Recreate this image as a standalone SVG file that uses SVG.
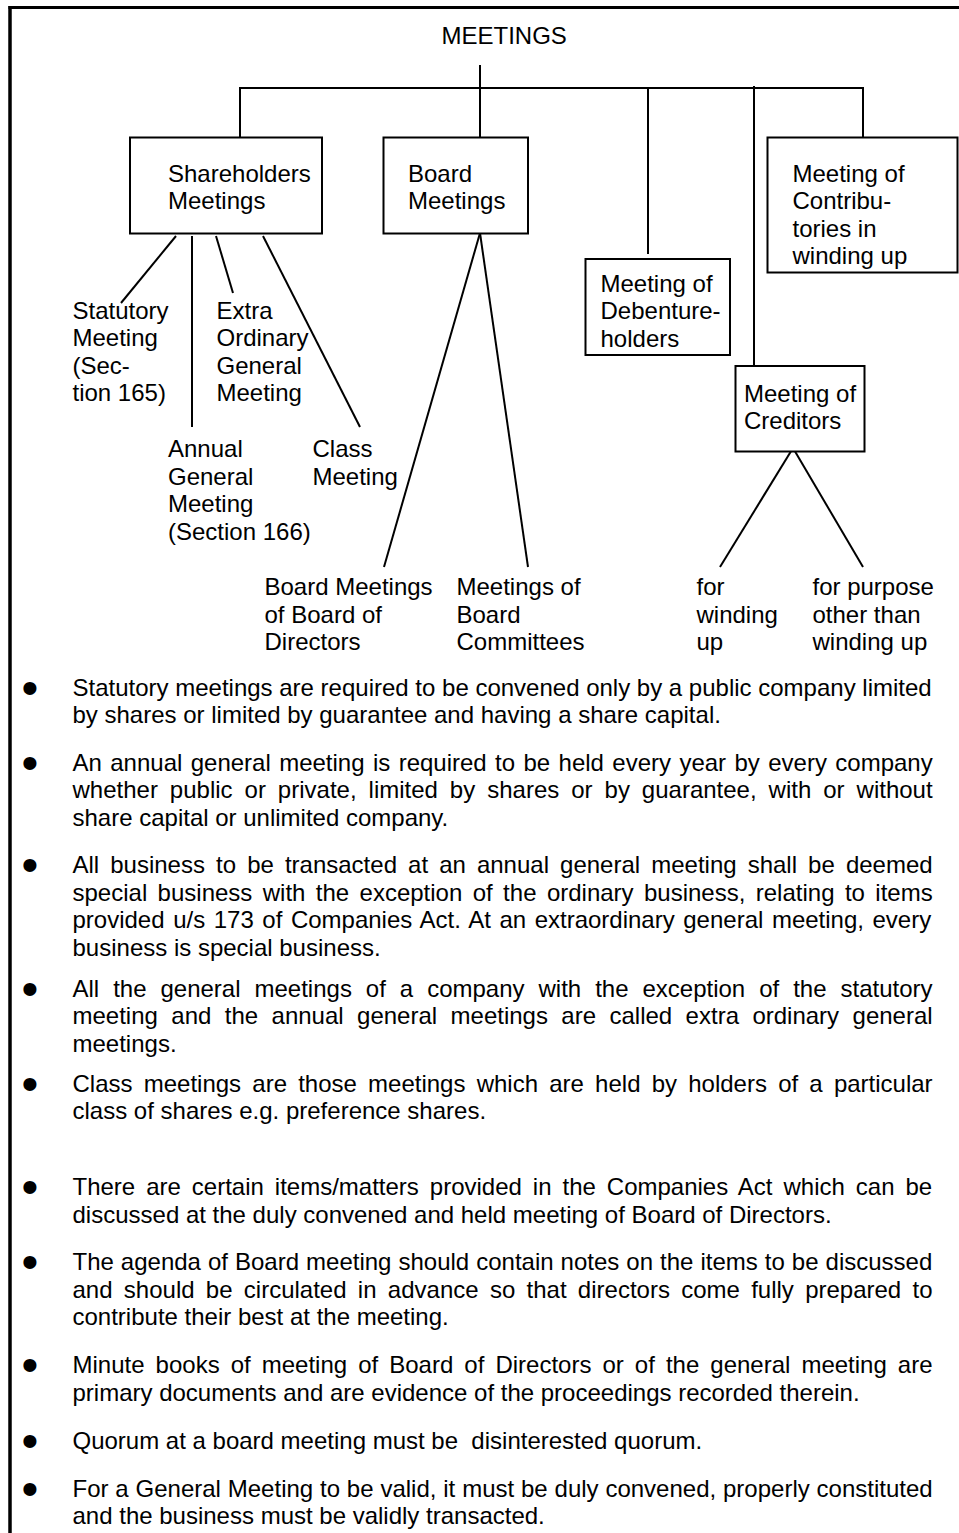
<svg xmlns="http://www.w3.org/2000/svg" width="959" height="1533" viewBox="0 0 959 1533">
<style>
text{font-family:"Liberation Sans",Arial,Helvetica,sans-serif;font-size:24px;fill:#000}
.box{fill:#fff;stroke:#000;stroke-width:2}
.ln{stroke:#000;stroke-width:2;fill:none}
.fr{stroke:#000;fill:none}
.bul{font-size:48px;text-anchor:middle}
</style>
<rect width="959" height="1533" fill="#fff"/>
<g id="frame">
<line class="fr" x1="10" y1="6" x2="10" y2="1533" stroke-width="3.5"/>
<line class="fr" x1="8.5" y1="7.6" x2="959" y2="7.6" stroke-width="3"/>
</g>
<g id="connectors">
<line class="ln" x1="480" y1="65" x2="480" y2="88"/>
<line class="ln" x1="239" y1="88" x2="864" y2="88"/>
<line class="ln" x1="240" y1="88" x2="240" y2="137"/>
<line class="ln" x1="480" y1="88" x2="480" y2="137"/>
<line class="ln" x1="648" y1="88" x2="648" y2="254"/>
<line class="ln" x1="754" y1="86" x2="754" y2="372"/>
<line class="ln" x1="863" y1="88" x2="863" y2="137"/>
<line class="ln" x1="176" y1="236" x2="121" y2="303"/>
<line class="ln" x1="192" y1="236" x2="192" y2="427"/>
<line class="ln" x1="216" y1="236" x2="233" y2="293"/>
<line class="ln" x1="263" y1="236" x2="360" y2="427"/>
<line class="ln" x1="480" y1="233" x2="384" y2="567"/>
<line class="ln" x1="480" y1="233" x2="528" y2="567"/>
<line class="ln" x1="793" y1="448" x2="720" y2="567"/>
<line class="ln" x1="793" y1="448" x2="863" y2="567"/>
</g>
<g id="meetings"><text x="441.5" y="44">MEETINGS</text></g>
<g id="shareholders">
<rect class="box" x="130" y="137.5" width="192" height="96"/>
<text x="168" y="181.5">Shareholders</text><text x="168" y="209">Meetings</text>
</g>
<g id="board">
<rect class="box" x="383.5" y="137.5" width="144.5" height="96"/>
<text x="408" y="181.5">Board</text><text x="408" y="209">Meetings</text>
</g>
<g id="contributories">
<rect class="box" x="767.5" y="137.5" width="190" height="135"/>
<text x="792.5" y="181.5">Meeting of</text><text x="792.5" y="209">Contribu-</text><text x="792.5" y="236.5">tories in</text><text x="792.5" y="264">winding up</text>
</g>
<g id="debenture">
<rect class="box" x="585.5" y="259" width="144.5" height="96"/>
<text x="600.5" y="291.5">Meeting of</text><text x="600.5" y="319">Debenture-</text><text x="600.5" y="346.5">holders</text>
</g>
<g id="creditors">
<rect class="box" x="735.5" y="366" width="129" height="85.5"/>
<text x="744" y="401.5">Meeting of</text><text x="744" y="429">Creditors</text>
</g>
<g id="statutory">
<text x="72.5" y="318.5">Statutory</text><text x="72.5" y="346">Meeting</text><text x="72.5" y="373.5">(Sec-</text><text x="72.5" y="401">tion 165)</text>
</g>
<g id="extraordinary">
<text x="216.5" y="318.5">Extra</text><text x="216.5" y="346">Ordinary</text><text x="216.5" y="373.5">General</text><text x="216.5" y="401">Meeting</text>
</g>
<g id="annual">
<text x="168" y="457">Annual</text><text x="168" y="484.5">General</text><text x="168" y="512">Meeting</text><text x="168" y="539.5">(Section 166)</text>
</g>
<g id="class">
<text x="312.5" y="457">Class</text><text x="312.5" y="484.5">Meeting</text>
</g>
<g id="board-directors">
<text x="264.5" y="595">Board Meetings</text><text x="264.5" y="622.5">of Board of</text><text x="264.5" y="650">Directors</text>
</g>
<g id="board-committees">
<text x="456.5" y="595">Meetings of</text><text x="456.5" y="622.5">Board</text><text x="456.5" y="650">Committees</text>
</g>
<g id="winding-up">
<text x="696.5" y="595">for</text><text x="696.5" y="622.5">winding</text><text x="696.5" y="650">up</text>
</g>
<g id="other-purpose">
<text x="812.5" y="595">for purpose</text><text x="812.5" y="622.5">other than</text><text x="812.5" y="650">winding up</text>
</g>
<g id="notes">
<text class="bul" x="30" y="703.5">•</text>
<text x="72.5" y="695.5">Statutory meetings are required to be convened only by a public company limited</text>
<text x="72.5" y="723">by shares or limited by guarantee and having a share capital.</text>
<text class="bul" x="30" y="778.5">•</text>
<text x="72.5" y="770.5" word-spacing="1.72">An annual general meeting is required to be held every year by every company</text>
<text x="72.5" y="798" word-spacing="5.31">whether public or private, limited by shares or by guarantee, with or without</text>
<text x="72.5" y="825.5">share capital or unlimited company.</text>
<text class="bul" x="30" y="881">•</text>
<text x="72.5" y="873" word-spacing="4.41">All business to be transacted at an annual general meeting shall be deemed</text>
<text x="72.5" y="900.5" word-spacing="3.73">special business with the exception of the ordinary business, relating to items</text>
<text x="72.5" y="928" word-spacing="1.9">provided u/s 173 of Companies Act. At an extraordinary general meeting, every</text>
<text x="72.5" y="955.5">business is special business.</text>
<text class="bul" x="30" y="1004.5">•</text>
<text x="72.5" y="996.5" word-spacing="7.3">All the general meetings of a company with the exception of the statutory</text>
<text x="72.5" y="1024" word-spacing="6.76">meeting and the annual general meetings are called extra ordinary general</text>
<text x="72.5" y="1051.5">meetings.</text>
<text class="bul" x="30" y="1099.5">•</text>
<text x="72.5" y="1091.5" word-spacing="4.53">Class meetings are those meetings which are held by holders of a particular</text>
<text x="72.5" y="1119">class of shares e.g. preference shares.</text>
<text class="bul" x="30" y="1203">•</text>
<text x="72.5" y="1195" word-spacing="4.3">There are certain items/matters provided in the Companies Act which can be</text>
<text x="72.5" y="1222.5">discussed at the duly convened and held meeting of Board of Directors.</text>
<text class="bul" x="30" y="1278">•</text>
<text x="72.5" y="1270" word-spacing="0.35">The agenda of Board meeting should contain notes on the items to be discussed</text>
<text x="72.5" y="1297.5" word-spacing="4.63">and should be circulated in advance so that directors come fully prepared to</text>
<text x="72.5" y="1325">contribute their best at the meeting.</text>
<text class="bul" x="30" y="1381">•</text>
<text x="72.5" y="1373" word-spacing="4.38">Minute books of meeting of Board of Directors or of the general meeting are</text>
<text x="72.5" y="1400.5">primary documents and are evidence of the proceedings recorded therein.</text>
<text class="bul" x="30" y="1456.5">•</text>
<text x="72.5" y="1448.5" xml:space="preserve">Quorum at a board meeting must be  disinterested quorum.</text>
<text class="bul" x="30" y="1504.5">•</text>
<text x="72.5" y="1496.5" word-spacing="0.18">For a General Meeting to be valid, it must be duly convened, properly constituted</text>
<text x="72.5" y="1524">and the business must be validly transacted.</text>
</g>
</svg>
